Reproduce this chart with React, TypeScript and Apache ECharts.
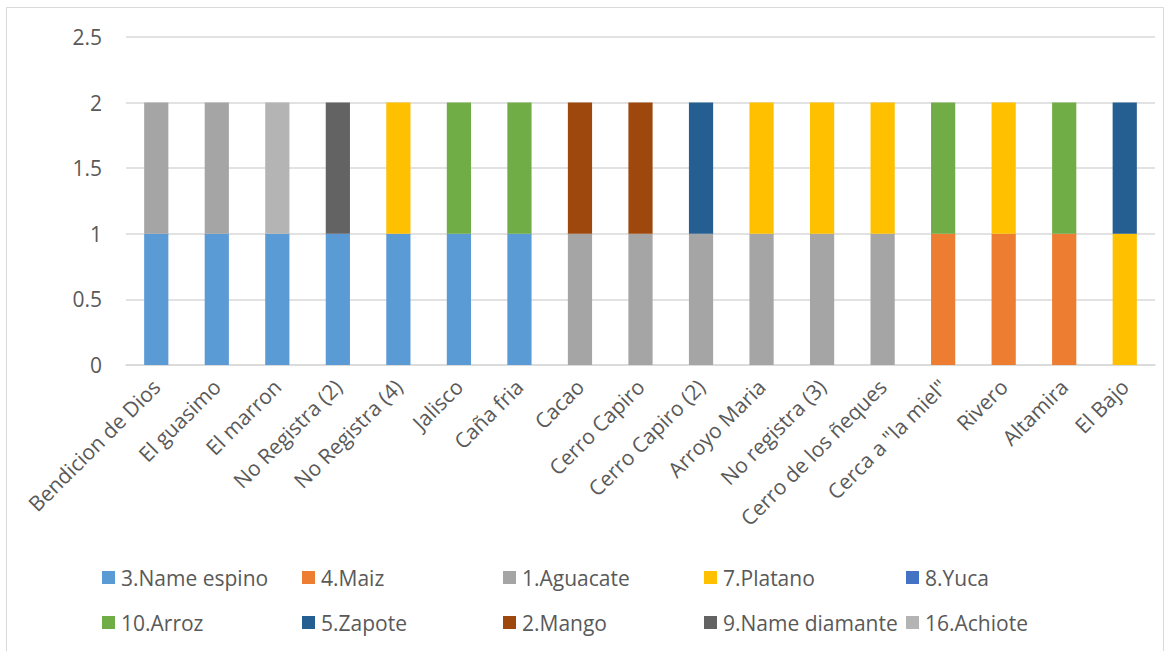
import React, { useEffect, useRef } from "react";
import * as echarts from "echarts";

const categories = [
  "Bendicion de Dios", "El guasimo", "El marron", "No Registra (2)", "No Registra (4)",
  "Jalisco", "Caña fria", "Cacao", "Cerro Capiro", "Cerro Capiro (2)", "Arroyo Maria",
  "No registra (3)", "Cerro de los ñeques", "Cerca a \"la miel\"", "Rivero", "Altamira", "El Bajo",
];

const seriesNames = [
  "3.Name espino", "4.Maiz", "1.Aguacate", "7.Platano", "8.Yuca",
  "10.Arroz", "5.Zapote", "2.Mango", "9.Name diamante", "16.Achiote",
];

const seriesColors = [
  "#5B9BD5", "#ED7D31", "#A5A5A5", "#FFC000", "#4472C4",
  "#70AD47", "#255E91", "#9E480E", "#636363", "#B4B4B4",
];

const nameEspino = [1, 1, 1, 1, 1, 1, 1, 0, 0, 0, 0, 0, 0, 0, 0, 0, 0];
const maiz = [0, 0, 0, 0, 0, 0, 0, 0, 0, 0, 0, 0, 0, 1, 1, 1, 0];
const aguacate = [1, 1, 0, 0, 0, 0, 0, 1, 1, 1, 1, 1, 1, 0, 0, 0, 0];
const platano = [0, 0, 0, 0, 1, 0, 0, 0, 0, 0, 1, 1, 1, 0, 1, 0, 1];
const yuca = [0, 0, 0, 0, 0, 0, 0, 0, 0, 0, 0, 0, 0, 0, 0, 0, 0];
const arroz = [0, 0, 0, 0, 0, 1, 1, 0, 0, 0, 0, 0, 0, 1, 0, 1, 0];
const zapote = [0, 0, 0, 0, 0, 0, 0, 0, 0, 1, 0, 0, 0, 0, 0, 0, 1];
const mango = [0, 0, 0, 0, 0, 0, 0, 1, 1, 0, 0, 0, 0, 0, 0, 0, 0];
const nameDiamante = [0, 0, 0, 1, 0, 0, 0, 0, 0, 0, 0, 0, 0, 0, 0, 0, 0];
const achiote = [0, 0, 1, 0, 0, 0, 0, 0, 0, 0, 0, 0, 0, 0, 0, 0, 0];

const seriesValues = [nameEspino, maiz, aguacate, platano, yuca, arroz, zapote, mango, nameDiamante, achiote];

const FONT = "'Open Sans', 'Noto Sans', sans-serif";
const TEXT = "#595959";

export default function App() {
  const ref = useRef<HTMLDivElement>(null);

  useEffect(() => {
    if (!ref.current) return;
    const chart = echarts.init(ref.current, undefined, { renderer: "svg" });

    const legendCols = [102, 302, 503, 704, 906];
    const legendRows = [567, 612];
    const legends = seriesNames.map((name, i) => ({
      show: true,
      left: legendCols[i % 5],
      top: legendRows[Math.floor(i / 5)],
      data: [name],
      icon: "rect",
      itemWidth: 13,
      itemHeight: 13,
      itemGap: 0,
      padding: 0,
      selectedMode: false,
      textStyle: { color: TEXT, fontSize: 21, fontFamily: FONT, lineHeight: 21, padding: [0, 0, 0, 1] },
    }));

    chart.setOption({
      animation: false,
      backgroundColor: "#ffffff",
      textStyle: { fontFamily: FONT },
      graphic: [
        {
          type: "rect",
          shape: { x: 6.5, y: 7.5, width: 1157, height: 660 },
          style: { fill: "none", stroke: "#d9d9d9", lineWidth: 1 },
          silent: true,
        },
      ],
      legend: legends,
      grid: { left: 126, right: 17, top: 37, bottom: 286, containLabel: false },
      xAxis: {
        type: "category",
        data: categories,
        axisLine: { show: true, lineStyle: { color: "#d9d9d9", width: 1.5 } },
        axisTick: { show: false },
        axisLabel: {
          interval: 0,
          rotate: 45,
          margin: 18,
          color: TEXT,
          fontSize: 21,
          fontFamily: FONT,
        },
      },
      yAxis: {
        type: "value",
        min: 0,
        max: 2.5,
        interval: 0.5,
        axisLine: { show: false },
        axisTick: { show: false },
        splitLine: { lineStyle: { color: "#d9d9d9", width: 1.5 } },
        axisLabel: { color: TEXT, fontSize: 21, fontFamily: FONT, margin: 24 },
      },
      series: seriesNames.map((name, i) => ({
        name,
        type: "bar",
        stack: "total",
        data: seriesValues[i],
        barWidth: "40%",
        itemStyle: { color: seriesColors[i] },
      })),
    });

    return () => chart.dispose();
  }, []);

  return (
    <div
      ref={ref}
      style={{ position: "fixed", left: 0, top: 0, width: 1172, height: 651 }}
    />
  );
}
